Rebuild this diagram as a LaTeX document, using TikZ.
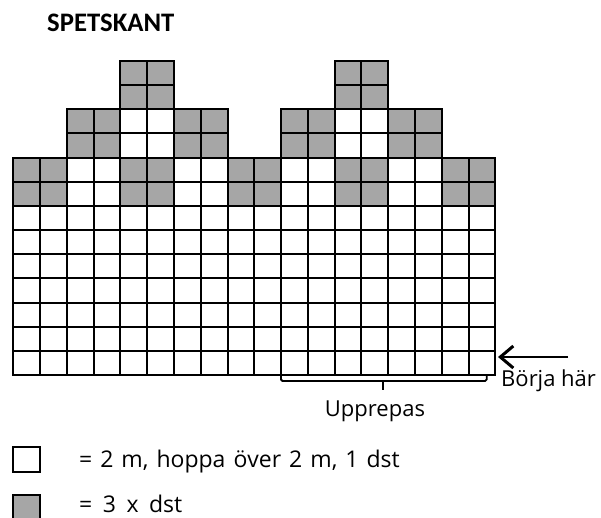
\documentclass[tikz,border=0pt]{standalone}
\usepackage{fontspec}
\setmainfont{Open Sans}
\newfontfamily\titlefont{Carlito}
\usetikzlibrary{arrows.meta}
\definecolor{grayc}{RGB}{166,166,166}
\def\W{26.78}
\def\H{24.15}
\def\X{13.3}
\def\Y{61}
\newcommand\cellat[3]{\path[cellbox,fill=#3] ({\X+#2*\W},{\Y+#1*\H}) rectangle ++(\W,\H);}
\newcommand\spacesA{\spaceskip=8pt\relax}
\newcommand\spacesB{\spaceskip=10.5pt\relax}
\begin{document}
\begin{tikzpicture}[x=1pt,y=-1pt,
  cellbox/.style={draw=black,line width=2pt},
  legendbox/.style={draw=black,line width=2pt},
  bracketline/.style={draw=black,line width=1.8pt,rounded corners=1.5pt},
  startarrow/.style={draw=black,line width=1.8pt,-{Straight Barb[length=13pt,width=22pt,line width=3pt]}},
  label/.style={inner sep=0pt,font=\fontsize{22}{26}\selectfont},
  legendtext/.style={inner sep=0pt,anchor=base west,font=\fontsize{23}{27}\selectfont}]
\useasboundingbox (0,0) rectangle (601,517);
\clip (0,0) rectangle (601,517);
% title
\node[inner sep=0pt,anchor=base west,font=\titlefont\bfseries\fontsize{26.7}{32}\selectfont] (title) at (47,31.5) {SPETSKANT};
% grid
\foreach \r in {0,1}{\foreach \c in {4,5,12,13}{\cellat{\r}{\c}{grayc}}}
\foreach \r in {2,3}{\foreach \c in {2,3,4,5,6,7,10,11,12,13,14,15}{%
  \pgfmathtruncatemacro\m{mod(\c,4)}%
  \ifnum\m>1 \cellat{\r}{\c}{grayc}\else\cellat{\r}{\c}{white}\fi}}
\foreach \r in {4,5}{\foreach \c in {0,...,17}{%
  \pgfmathtruncatemacro\m{mod(\c,4)}%
  \ifnum\m<2 \cellat{\r}{\c}{grayc}\else\cellat{\r}{\c}{white}\fi}}
\foreach \r in {6,...,12}{\foreach \c in {0,...,17}{\cellat{\r}{\c}{white}}}
% arrow
\coordinate (arrowtail) at (568,357);
\coordinate (arrowhead) at (498,357);
\draw[startarrow] (arrowtail) -- (arrowhead);
\node[label,anchor=base west] (start) at (501,386.7) {Börja här};
% bracket
\coordinate (braceL) at (281,375);
\coordinate (braceR) at (486.7,375);
\coordinate (braceM) at (383.3,381);
\coordinate (braceTip) at (383.3,390);
\draw[bracketline] (braceL) -- (braceL |- braceM) -- (braceR |- braceM) -- (braceR);
\draw[bracketline] (braceM) -- (braceTip);
\node[label,anchor=base] (repeat) at (375,416.7) {Upprepas};
% legend
\path[legendbox,fill=white] (13.3,446.7) rectangle (40,471.7);
\path[legendbox,fill=grayc] (13.3,495) rectangle (40,522);
\node[legendtext] (legA) at (79,467) {\spacesA = 2 m, hoppa över 2 m, 1 dst};
\node[legendtext] (legB) at (79,512) {\spacesB = 3 x dst};
\end{tikzpicture}
\end{document}
